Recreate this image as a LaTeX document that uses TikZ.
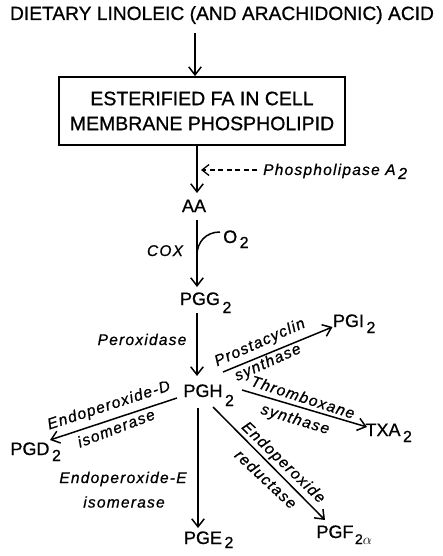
\documentclass[tikz,border=0pt]{standalone}
\usepackage{fontspec}
\setmainfont[FakeBold=0.8]{Liberation Sans}
\newfontfamily\labfont[LetterSpace=8,FakeBold=0.8]{Liberation Sans}
\usetikzlibrary{arrows.meta}
\newcommand\subs[2][6]{\rlap{\kern2.5pt\raisebox{-#1pt}{\fontsize{16}{16}\selectfont #2}}}
\tikzset{
  chem/.style={inner sep=0pt, font=\fontsize{18}{20}\selectfont},
  big/.style={inner sep=0pt, font=\fontsize{19.2}{22}\selectfont},
  lab/.style={inner sep=0pt, font=\labfont\itshape\fontsize{15.5}{18}\selectfont},
  arr/.style={line width=1.5pt, -{Straight Barb[length=8pt,width=12.5pt,line width=1.5pt]}},
  darr/.style={line width=1.3pt, dash pattern=on 5pt off 3.5pt, -{Straight Barb[length=7pt,width=11pt,line width=1.3pt]}},
  boxst/.style={draw, line width=1.8pt, minimum width=286pt, minimum height=68pt, align=center, inner sep=0pt, font=\fontsize{19.5}{25}\selectfont}
}
\begin{document}
\begin{tikzpicture}[x=1pt,y=-1pt]
\useasboundingbox (0,0) rectangle (442,556);
% nodes
\node[big, anchor=base] (title) at (222,20) {DIETARY LINOLEIC (AND ARACHIDONIC) ACID};
\node[boxst] (box) at (202,111) {ESTERIFIED FA IN CELL\\MEMBRANE PHOSPHOLIPID};
\node[chem, anchor=base] (aa) at (194,212) {AA};
\node[lab, anchor=base west] (phos) at (263,175) {Phospholipase A\subs[4]{\labfont\itshape 2}};
\coordinate (pl) at (201,170);
\node[lab, anchor=base] (cox) at (165,256) {COX};
\node[chem, anchor=base west] (o2) at (223,243) {O\subs[5]{2}};
\coordinate (oj) at (197,255);
\node[chem, anchor=base] (pgg) at (200,305) {PGG\subs[8]{2}};
\node[lab, anchor=base] (perox) at (142,345) {Peroxidase};
\node[chem, anchor=base] (pgh) at (203,397) {PGH\subs[9]{2}};
\node[chem, anchor=base] (pgi) at (348.5,327) {PGI\subs[6]{2}};
\node[chem, anchor=base] (txa) at (383,436) {TXA\subs[6]{2}};
\node[chem, anchor=base] (pgd) at (30,455) {PGD\subs[6]{2}};
\node[chem, anchor=base] (pge) at (203,544) {PGE\subs[4]{2}};
\node[chem, anchor=base] (pgf) at (335,538) {PGF\rlap{\kern1.5pt\raisebox{-6pt}{\fontsize{14}{14}\selectfont 2$\alpha$}}};
% enzyme labels
\node[lab, rotate=24] (pc1) at (260,343) {Prostacyclin};
\node[lab, rotate=24] (pc2) at (268,363) {synthase};
\node[lab, rotate=-18] (tx1) at (303,397) {Thromboxane};
\node[lab, rotate=-17] (tx2) at (295,420) {synthase};
\node[lab, rotate=18] (ed1) at (109,406) {Endoperoxide-D};
\node[lab, rotate=21] (ed2) at (116,428) {isomerase};
\node[lab, rotate=-44] (ef1) at (283,463) {Endoperoxide};
\node[lab, rotate=-43] (ef2) at (266,479) {reductase};
\node[lab] (ee1) at (123,479) {Endoperoxide-E};
\node[lab] (ee2) at (124,502) {isomerase};
% connectors
\draw[arr] ([shift={(-27,13)}]title.base) -- ([shift={(-7,0)}]box.north);
\draw[arr] ([shift={(-5,0)}]box.south) -- ([shift={(3,-19)}]aa.base);
\draw[darr] ([shift={(-6,-5)}]phos.base west) -- (pl);
\draw[arr] ([shift={(3,8)}]aa.base) -- ([shift={(-3,-18)}]pgg.base);
\draw[line width=1.5pt] ([shift={(-3,-11)}]o2.base west) .. controls (206,232) and (197,242) .. (oj);
\draw[arr] ([shift={(-3,8)}]pgg.base) -- ([shift={(-6,-21)}]pgh.base);
\draw[arr] ([shift={(20,-25)}]pgh.base) -- ([shift={(-16,0)}]pgi.base);
\draw[arr] ([shift={(39,-7)}]pgh.base) -- ([shift={(-16,-9)}]txa.base);
\draw[arr] ([shift={(-26,1)}]pgh.base) -- ([shift={(20,-15)}]pgd.base);
\draw[arr] ([shift={(-5,11)}]pgh.base) -- ([shift={(-5,-16)}]pge.base);
\draw[arr] ([shift={(10,10)}]pgh.base) -- ([shift={(-10,-18)}]pgf.base);
\end{tikzpicture}
\end{document}
